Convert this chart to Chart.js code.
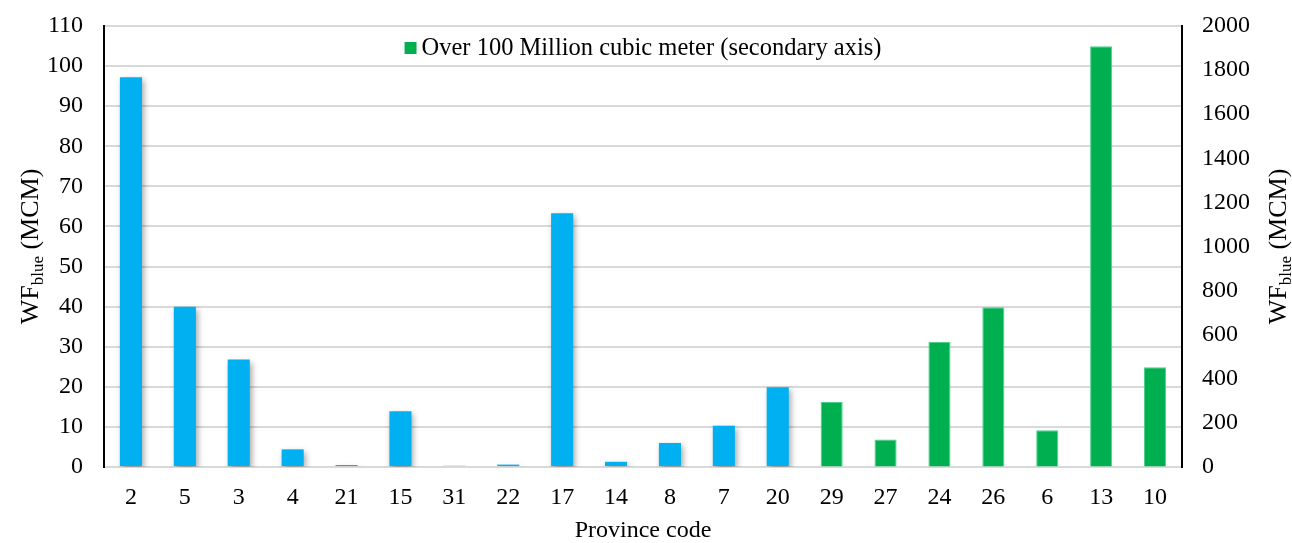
<!DOCTYPE html>
<html>
<head>
<meta charset="utf-8">
<script src="https://cdn.jsdelivr.net/npm/chart.js@4/dist/chart.umd.min.js"></script>
<style>
  html, body { margin: 0; padding: 0; background: #fff; }
  #wrap { width: 1292px; height: 543px; position: relative; }
</style>
</head>
<body>
<div id="wrap"><canvas id="c" width="1292" height="543"></canvas></div>
<script>
const categories = ['2','5','3','4','21','15','31','22','17','14','8','7','20','29','27','24','26','6','13','10'];
const under100Values = [97.2, 40, 26.8, 4.4, 0.5, 13.9, 0.3, 0.6, 63.3, 1.3, 6, 10.3, 19.9, null, null, null, null, null, null, null];
const over100Values = [null, null, null, null, null, null, null, null, null, null, null, null, null, 295, 125, 567, 725, 167, 1908, 452];
const leftTicks = [0, 10, 20, 30, 40, 50, 60, 70, 80, 90, 100, 110];
const rightTicks = [0, 200, 400, 600, 800, 1000, 1200, 1400, 1600, 1800, 2000];
const legendLabel = 'Over 100 Million cubic meter (secondary axis)';
const yTitleMain = 'WF';
const yTitleSub = 'blue';
const yTitleTail = ' (MCM)';
const xTitle = 'Province code';

const FONT = "'Liberation Serif', 'Times New Roman', serif";
const BLUE = '#00B0F0';
const GREEN = '#00B050';

const shadowPlugin = {
  id: 'shadow',
  beforeDatasetDraw(chart, args) {
    if (args.index === 0) {
      const ctx = chart.ctx;
      ctx.save();
      ctx.shadowColor = 'rgba(0,0,0,0.35)';
      ctx.shadowBlur = 6;
      ctx.shadowOffsetX = 2;
      ctx.shadowOffsetY = 3;
    }
  },
  afterDatasetDraw(chart, args) {
    if (args.index === 0) chart.ctx.restore();
  }
};

const legendInAreaPlugin = {
  id: 'legendInArea',
  afterDatasetsDraw(chart) {
    const ctx = chart.ctx;
    const ca = chart.chartArea;
    const ds = chart.data.datasets[1];
    ctx.save();
    ctx.font = '24.5px ' + FONT;
    const tw = ctx.measureText(ds.label).width;
    const box = 12, gap = 5;
    const total = box + gap + tw;
    const cx = (ca.left + ca.right) / 2;
    const cy = ca.top + 22;
    let x = cx - total / 2;
    ctx.fillStyle = ds.backgroundColor;
    ctx.fillRect(x, cy - box / 2, box, box);
    ctx.fillStyle = '#000';
    ctx.textBaseline = 'middle';
    ctx.textAlign = 'left';
    ctx.fillText(ds.label, x + box + gap, cy + 1);
    ctx.restore();
  }
};

const axisTitlePlugin = {
  id: 'axisTitles',
  afterDraw(chart) {
    const ctx = chart.ctx;
    const ca = chart.chartArea;
    const cy = (ca.top + ca.bottom) / 2;
    const mainFont = '26px ' + FONT;
    const subFont = '17px ' + FONT;
    function draw(cx) {
      ctx.save();
      ctx.font = mainFont;
      const w1 = ctx.measureText(yTitleMain).width;
      const w3 = ctx.measureText(yTitleTail).width;
      ctx.font = subFont;
      const w2 = ctx.measureText(yTitleSub).width;
      const total = w1 + w2 + w3;
      ctx.translate(cx, cy);
      ctx.rotate(-Math.PI / 2);
      ctx.fillStyle = '#000';
      ctx.textBaseline = 'alphabetic';
      ctx.textAlign = 'left';
      let x = -total / 2;
      const base = 9;
      ctx.font = mainFont;
      ctx.fillText(yTitleMain, x, base);
      x += w1;
      ctx.font = subFont;
      ctx.fillText(yTitleSub, x, base + 5);
      x += w2;
      ctx.font = mainFont;
      ctx.fillText(yTitleTail, x, base);
      ctx.restore();
    }
    draw(29);
    draw(1277);
  }
};

new Chart(document.getElementById('c'), {
  type: 'bar',
  data: {
    labels: categories,
    datasets: [
      {
        label: 'Under 100 Million cubic meter',
        data: under100Values,
        backgroundColor: BLUE,
        borderWidth: 0,
        yAxisID: 'y',
        barPercentage: 0.41,
        categoryPercentage: 1.0
      },
      {
        label: legendLabel,
        data: over100Values,
        backgroundColor: GREEN,
        borderColor: '#4fd08a',
        borderWidth: 1,
        yAxisID: 'y1',
        barPercentage: 0.41,
        categoryPercentage: 1.0
      }
    ]
  },
  options: {
    responsive: false,
    animation: false,
    grouped: false,
    layout: { padding: { top: 26, left: 0, right: 0, bottom: 0 } },
    plugins: {
      legend: { display: false },
      tooltip: { enabled: false }
    },
    scales: {
      x: {
        grid: { display: false, drawTicks: false },
        border: { display: true, color: '#d9d9d9', width: 2 },
        ticks: { font: { family: FONT, size: 24 }, color: '#000', padding: 16, maxRotation: 0, autoSkip: false },
        title: { display: true, text: xTitle, font: { family: FONT, size: 24, lineHeight: 1 }, color: '#000', padding: 0 },
        afterFit(s) { s.height = 76; }
      },
      y: {
        position: 'left',
        min: 0, max: 110,
        afterBuildTicks(s) { s.ticks = leftTicks.map(v => ({ value: v })); },
        grid: { color: '#d9d9d9', lineWidth: 2, drawTicks: false },
        border: { display: true, color: '#000', width: 2 },
        ticks: { font: { family: FONT, size: 24 }, color: '#000', padding: 21, callback: (v) => String(v) },
        afterFit(s) { s.width = 104; s.paddingTop = 0; s.paddingBottom = 0; }
      },
      y1: {
        position: 'right',
        min: 0, max: 2000,
        afterBuildTicks(s) { s.ticks = rightTicks.map(v => ({ value: v })); },
        grid: { drawOnChartArea: false, drawTicks: false },
        border: { display: true, color: '#000', width: 2 },
        ticks: { font: { family: FONT, size: 24 }, color: '#000', padding: 20, callback: (v) => String(v) },
        afterFit(s) { s.width = 110; s.paddingTop = 0; s.paddingBottom = 0; }
      }
    }
  },
  plugins: [shadowPlugin, legendInAreaPlugin, axisTitlePlugin]
});
</script>
</body>
</html>
